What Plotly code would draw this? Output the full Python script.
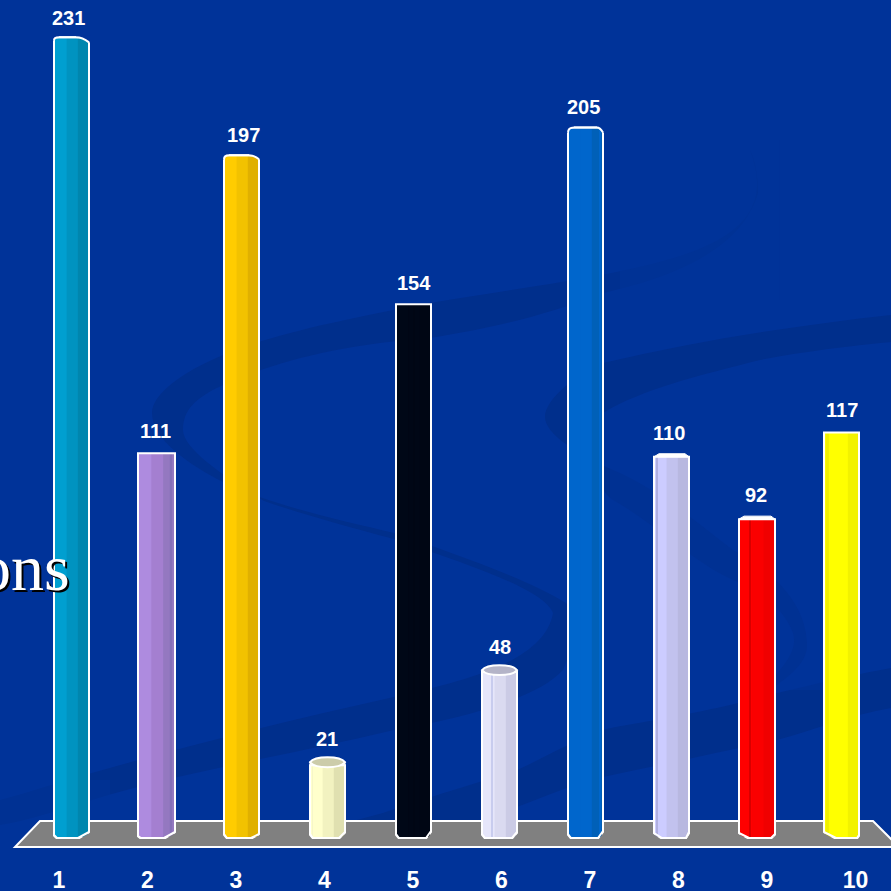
import re
import plotly.graph_objects as go

categories = [1, 2, 3, 4, 5, 6, 7, 8, 9, 10]
values = [231, 111, 197, 21, 154, 48, 205, 110, 92, 117]
tick_labels = ["1", "2", "3", "4", "5", "6", "7", "8", "9", "10"]

# ---- styles ----
light = ["#009FD0", "#AE8BDF", "#FFCC00", "#FFFFCC", "#000817", "#E6E6FA", "#0066CC", "#CCCCFF", "#FF0000", "#FFFF00"]
mid = ["#0093C0", "#A47FD0", "#F2C200", "#F2F2C0", "#000716", "#DADAF0", "#0066CC", "#C2C2EE", "#FA0000", "#FFFF00"]
dark = ["#0086AE", "#9478C0", "#E0B000", "#E0E0B0", "#000614", "#CBCBE5", "#0060B8", "#B8B8E0", "#F00000", "#F2F200"]
stripe = ["#0086AE", "#8570B8", "#E0B000", "#F6F6C8", "#000614", "#C8CCEE", "#0066CC", "#B0B0E0", "#D80000", "#F0F000"]
stripe_from = [0.92, 0.86, 0.92, 0.06, 0.5, 0.27, 0.9, 0.07, 0.30, 0.05]
stripe_w = [0.02, 0.06, 0.02, 0.02, 0.02, 0.03, 0.02, 0.03, 0.03, 0.09]
bar_left_px = [54, 138, 224, 310, 396, 482, 568, 654, 739, 824]
bar_w_px = [35, 37, 35, 35, 35, 35, 35, 35, 36, 35]
label_gap = [19, 22, 20, 26, 21, 25, 20, 24, 24, 22]
label_dx = [-3, -2, 1, -1, 0, 0, -2, -2, 0, 0]
# bottom corner cuts (w, h) in px
cut_l = [(3, 3), (3, 2), (3, 4), (3, 4), (3, 4), (3, 4), (3, 4), (8, 5), (10, 5), (12, 6)]
cut_r = [(11, 6), (11, 6), (8, 4), (6, 6), (5, 7), (5, 6), (5, 7), (3, 6), (4, 4), (2, 3)]
# rounded tops: bar index -> (left w, left h, right w, right h)
round_top = {0: (5, 3, 13, 5), 2: (5, 4, 10, 4), 6: (6, 5, 6, 5)}
# ellipse tops: bar index -> (centre rise, half height)
ellipse_top = {3: (3, 5), 5: (1.5, 5)}
ellipse_col = {3: "#CCCCAA", 5: "#B4B4C8"}
# shallow white tops
flat_top = {7: 3, 8: 3}

W = H = 891
MB = 27
PH = H - MB
BASE_PX = 838
UNIT = 3.466
SP = 85.6
TICK_SP = 88.5
BG = "#003399"
SW = "#002F8C"
FLOOR = "#808080"


def yd(px):
    return px / UNIT


def xd(px):
    return px / SP


def paper_path(s):
    out = []
    isx = True
    for t in re.findall(r"[A-Z]|-?\d+\.?\d*", s):
        if t.isalpha():
            out.append(t)
            isx = True
        else:
            v = float(t)
            out.append(f"{v / W:.5f}" if isx else f"{1 - v / PH:.5f}")
            isx = not isx
    return " ".join(out)


x0_range = 1 - 71.5 / SP
xr = [x0_range, x0_range + W / SP]
yr = [-(PH - BASE_PX) / UNIT, BASE_PX / UNIT]
cx_px = [71.5 + SP * i for i in range(10)]
offs = [(bar_left_px[i] - cx_px[i]) / SP for i in range(10)]
wid = [w / SP for w in bar_w_px]

fig = go.Figure()


def seg(frm, w, col):
    fig.add_bar(
        x=categories, y=values,
        offset=[offs[i] + frm[i] * wid[i] for i in range(10)],
        width=[w[i] * wid[i] for i in range(10)],
        marker=dict(color=col, line=dict(width=0)),
        showlegend=False, hoverinfo="skip",
    )


seg([0.0] * 10, [1.0] * 10, light)
seg([0.36] * 10, [0.64] * 10, mid)
seg([0.68] * 10, [0.32] * 10, dark)
seg(stripe_from, stripe_w, stripe)
fig.add_bar(
    x=categories, y=values, offset=offs, width=wid,
    marker=dict(color="rgba(0,0,0,0)", line=dict(color="white", width=2)),
    showlegend=False, hoverinfo="skip",
)
# carrier trace for the tick-label axis
fig.add_scatter(x=categories, y=[0] * 10, xaxis="x2", mode="markers",
                marker=dict(opacity=0), showlegend=False, hoverinfo="skip")

shapes = []
# background swooshes
swooshes = [
    "M750,150 C765,190 760,225 697,250 C640,272 560,282 430,303 C340,320 270,335 223,355 "
    "C180,373 152,395 152,413 C152,440 190,465 223,482 C270,505 340,520 394,533 "
    "C450,552 530,580 566,603 C575,615 575,645 563,670 C540,695 480,715 394,730 "
    "C290,755 190,770 92,800 C60,810 30,820 0,825 L0,800 C30,792 60,782 92,773 "
    "C190,745 290,720 394,697 C470,680 545,660 553,613 C545,590 470,565 394,539 "
    "C340,525 290,510 264,501 C230,480 183,450 183,430 C183,410 195,398 223,385 "
    "C280,360 340,345 430,338 C480,330 540,318 603,293 C660,280 740,255 758,193 "
    "C758,175 755,160 750,150 Z",
    "M891,315 C800,325 700,340 603,363 C575,375 545,400 545,417 C545,435 580,455 613,470 "
    "C660,490 700,525 733,550 C770,570 805,600 807,643 C808,660 795,672 777,685 L767,685 "
    "C785,665 798,650 793,633 C785,610 760,590 733,580 C690,560 650,520 613,500 "
    "C590,485 600,450 603,413 C640,390 700,375 760,360 C800,352 850,346 891,342 Z",
    "M891,668 C850,675 800,688 777,693 C700,715 620,725 603,730 C570,742 540,760 517,770 "
    "C470,785 420,800 383,813 C350,822 320,830 290,838 L470,838 C490,820 500,812 517,807 "
    "C550,795 570,785 603,777 C660,765 720,752 777,740 C815,730 850,715 891,708 Z",
]
for p in swooshes:
    shapes.append(dict(type="path", xref="paper", yref="paper", path=paper_path(p),
                       fillcolor=SW, line=dict(width=0), layer="below"))
# veils that fade the faint ends of the swooshes: (x0, y0, x1, y1, opacity)
veils = [(620, 140, 780, 300, 0.7), (560, 270, 620, 310, 0.35),
         (610, 465, 830, 690, 0.55), (0, 780, 110, 840, 0.5)]
for x0, y0, x1, y1, op in veils:
    shapes.append(dict(type="path", xref="paper", yref="paper",
                       path=paper_path(f"M{x0},{y0} L{x1},{y0} L{x1},{y1} L{x0},{y1} Z"),
                       fillcolor=BG, opacity=op, line=dict(width=0), layer="below"))
# floor
shapes.append(dict(type="path", xref="paper", yref="paper",
                   path=paper_path("M40,821 L873,821 L899,847 L15,847 Z"),
                   fillcolor=FLOOR, line=dict(color="white", width=2), layer="below"))

for i in range(10):
    c = categories[i]
    xl = c + offs[i]
    xrr = xl + wid[i]
    v = values[i]
    # bottom chamfers
    lw, lh = cut_l[i]
    rw, rh = cut_r[i]
    shapes.append(dict(type="path", xref="x", yref="y",
                       path=f"M {xl - xd(2)} {yd(lh)} L {xl + xd(lw)} {-yd(2)} L {xl - xd(2)} {-yd(2)} Z",
                       fillcolor=FLOOR, line=dict(width=0)))
    shapes.append(dict(type="path", xref="x", yref="y",
                       path=f"M {xrr + xd(2)} {yd(rh)} L {xrr - xd(rw)} {-yd(2)} L {xrr + xd(2)} {-yd(2)} Z",
                       fillcolor=FLOOR, line=dict(width=0)))
    shapes.append(dict(type="path", xref="x", yref="y",
                       path=f"M {xl} {yd(lh)} L {xl + xd(lw)} 0 L {xrr - xd(rw)} 0 L {xrr} {yd(rh)}",
                       fillcolor="rgba(0,0,0,0)", line=dict(color="white", width=2)))
    # tops
    if i in round_top:
        a, b, d, e = round_top[i]
        shapes.append(dict(type="path", xref="x", yref="y",
                           path=f"M {xl - xd(2)} {v - yd(b)} L {xl} {v - yd(b)} Q {xl} {v} {xl + xd(a)} {v} "
                                f"L {xl + xd(a)} {v + yd(2)} L {xl - xd(2)} {v + yd(2)} Z",
                           fillcolor=BG, line=dict(width=0)))
        shapes.append(dict(type="path", xref="x", yref="y",
                           path=f"M {xrr + xd(2)} {v - yd(e)} L {xrr} {v - yd(e)} Q {xrr - xd(d * 0.5)} {v} {xrr - xd(d)} {v} "
                                f"L {xrr - xd(d)} {v + yd(2)} L {xrr + xd(2)} {v + yd(2)} Z",
                           fillcolor=BG, line=dict(width=0)))
        shapes.append(dict(type="path", xref="x", yref="y",
                           path=f"M {xl} {v - yd(b)} Q {xl} {v} {xl + xd(a)} {v} L {xrr - xd(d)} {v} "
                                f"Q {xrr - xd(d * 0.5)} {v} {xrr} {v - yd(e)}",
                           fillcolor="rgba(0,0,0,0)", line=dict(color="white", width=2)))
    if i in ellipse_top:
        rise, hh = ellipse_top[i]
        cy = v + yd(rise)
        shapes.append(dict(type="rect", xref="x", yref="y", x0=xl, x1=xrr, y0=v, y1=cy,
                           fillcolor=light[i], line=dict(color="white", width=1)))
        shapes.append(dict(type="path", xref="x", yref="y",
                           path=f"M {xl} {cy} C {xl + xd(5)} {cy + yd(hh * 1.33)} {xrr - xd(5)} {cy + yd(hh * 1.33)} {xrr} {cy} "
                                f"C {xrr - xd(5)} {cy - yd(hh * 1.33)} {xl + xd(5)} {cy - yd(hh * 1.33)} {xl} {cy} Z",
                           fillcolor=ellipse_col[i], line=dict(color="white", width=2)))
    if i in flat_top:
        h = flat_top[i]
        shapes.append(dict(type="path", xref="x", yref="y",
                           path=f"M {xl} {v} L {xl + xd(5)} {v + yd(h)} L {xrr - xd(4)} {v + yd(h)} L {xrr} {v} Z",
                           fillcolor="white", line=dict(color="white", width=1)))

annotations = []
for i in range(10):
    annotations.append(dict(x=categories[i], y=values[i], xref="x", yref="y", text=f"<b>{values[i]}</b>",
                            showarrow=False, yanchor="middle", xanchor="center",
                            xshift=label_dx[i], yshift=label_gap[i],
                            font=dict(family="Liberation Sans", size=20, color="white")))

# clipped title fragment with shadow
TX, TY = 72 / W, 1 - 601 / PH
for dx, col in ((2, "black"), (0, "white")):
    annotations.append(dict(x=TX, y=TY, xref="paper", yref="paper", text="ons", showarrow=False,
                            xanchor="right", yanchor="bottom", xshift=dx, yshift=-dx - 5 if dx else -5,
                            font=dict(family="Liberation Serif", size=66, color=col)))

fig.update_layout(
    width=W, height=H, autosize=False,
    margin=dict(l=0, r=0, t=0, b=MB, pad=0),
    paper_bgcolor=BG, plot_bgcolor="rgba(0,0,0,0)",
    barmode="overlay", showlegend=False,
    font=dict(family="Liberation Sans", color="white"),
    xaxis=dict(range=xr, visible=False, fixedrange=True),
    xaxis2=dict(
        overlaying="x", side="bottom", anchor="y",
        range=[1 - 59 / TICK_SP, 1 - 59 / TICK_SP + W / TICK_SP],
        tickmode="array", tickvals=categories, ticktext=[f"<b>{t}</b>" for t in tick_labels],
        tickfont=dict(family="Liberation Sans", size=23, color="white"),
        showgrid=False, zeroline=False, showline=False, ticks="", ticklen=0, automargin=False,
    ),
    yaxis=dict(range=yr, visible=False, fixedrange=True),
    shapes=shapes, annotations=annotations,
)
fig.write_html(
    "out.html",
    config=dict(displayModeBar=False),
    post_script="document.body.style.margin='0';document.body.style.overflow='hidden';"
                "document.documentElement.style.background='#003399';",
)
